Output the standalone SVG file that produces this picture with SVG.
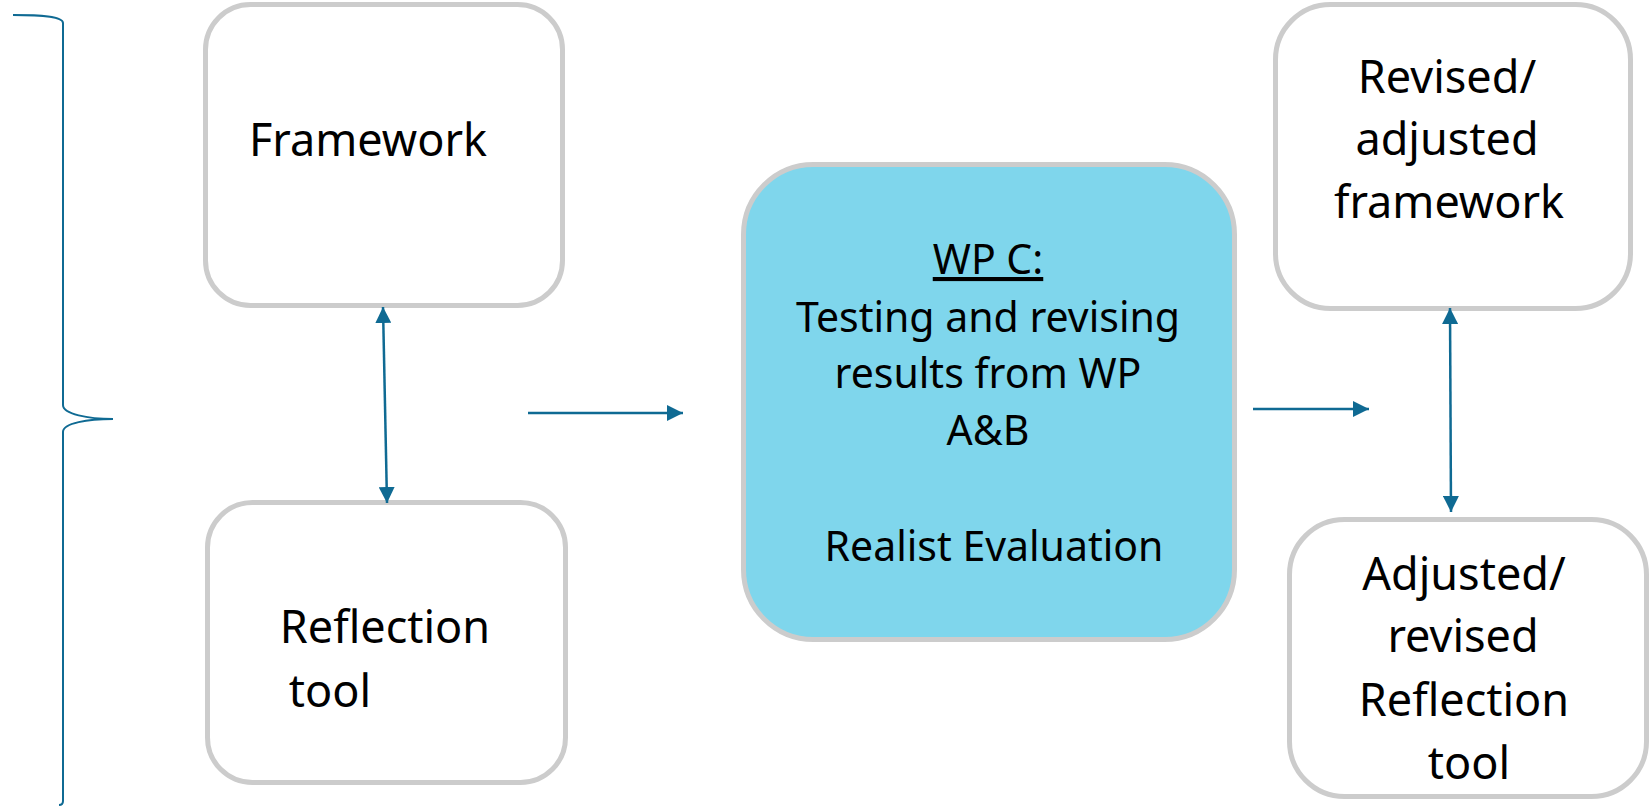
<svg xmlns="http://www.w3.org/2000/svg" width="1652" height="806" viewBox="0 0 1652 806">
<style>
.box{fill:#ffffff;stroke:#cccccc;stroke-width:5}
.hl{fill:#7fd6ec}
.t{font-family:"Noto Sans","Open Sans",sans-serif;font-size:45px;fill:#000;text-anchor:middle}
.tc{font-size:41px}
.ln{stroke:#0f6a93;stroke-width:2.5;fill:none}
.br{stroke:#0f6a93;stroke-width:2;fill:none}
</style>
<defs>
<marker id="ah" viewBox="0 0 16 16" refX="16" refY="8" markerWidth="16" markerHeight="16" markerUnits="userSpaceOnUse" orient="auto-start-reverse">
<path d="M0,0 L16,8 L0,16 Z" fill="#0f6a93"/>
</marker>
</defs>
<g id="brace">
<path class="br" d="M13,15 C40,15 63,16 63,23 L63,405 C63,414 88,419 113,419 C88,419 63,423 63,432 L63,801 C63,804 62,805 59,805"/>
</g>
<g id="framework">
<rect class="box" x="205.5" y="4.5" width="357" height="301" rx="45"/>
<text class="t" x="368" y="156">Framework</text>
</g>
<g id="reflection">
<rect class="box" x="207.5" y="502.5" width="358" height="280" rx="45"/>
<text class="t" x="385" y="643">Reflection</text>
<text class="t" x="330" y="707">tool</text>
</g>
<g id="wpc">
<rect class="box hl" x="743.5" y="164.5" width="491" height="475" rx="70"/>
<text class="t tc" x="988" y="274" text-decoration="underline">WP C:</text>
<text class="t tc" x="988" y="332">Testing and revising</text>
<text class="t tc" x="988" y="388">results from WP</text>
<text class="t tc" x="988" y="445">A&amp;B</text>
<text class="t tc" x="994" y="561">Realist Evaluation</text>
</g>
<g id="revised">
<rect class="box" x="1275.5" y="4.5" width="355" height="304" rx="55"/>
<text class="t" x="1447" y="93">Revised/</text>
<text class="t" x="1447" y="155">adjusted</text>
<text class="t" x="1449" y="218">framework</text>
</g>
<g id="adjusted">
<rect class="box" x="1289.5" y="519.5" width="357" height="277" rx="55"/>
<text class="t" x="1464" y="590">Adjusted/</text>
<text class="t" x="1463" y="652">revised</text>
<text class="t" x="1464" y="716">Reflection</text>
<text class="t" x="1469" y="779">tool</text>
</g>
<g id="connectors">
<line class="ln" x1="383" y1="307" x2="387" y2="503" marker-start="url(#ah)" marker-end="url(#ah)"/>
<line class="ln" x1="528" y1="413" x2="683" y2="413" marker-end="url(#ah)"/>
<line class="ln" x1="1253" y1="409" x2="1369" y2="409" marker-end="url(#ah)"/>
<line class="ln" x1="1450" y1="308" x2="1451" y2="512" marker-start="url(#ah)" marker-end="url(#ah)"/>
</g>
</svg>
